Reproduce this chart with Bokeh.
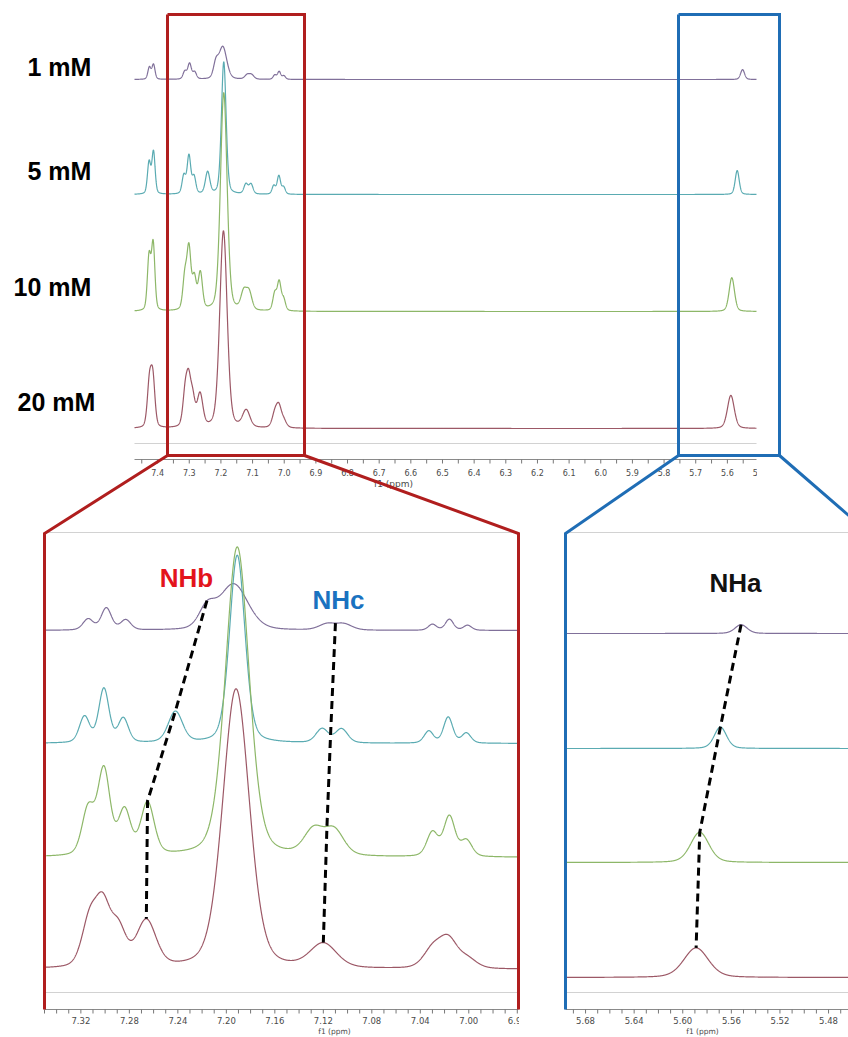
import numpy as np
from bokeh.plotting import figure
from bokeh.models import Range1d
from bokeh.embed import file_html
from bokeh.resources import INLINE
from bokeh.core.properties import value

# ------------------------------------------------------------------ data
CONCENTRATIONS = ["1 mM", "5 mM", "10 mM", "20 mM"]
TRACE_COLORS = ["#80709a", "#5aabb2", "#8db768", "#9c5866"]

# peak lists: position (ppm), intensity (a.u.), width (ppm)
C1_PPM = [7.426, 7.413, 7.314, 7.299, 7.283, 7.216, 7.194, 7.117, 7.103, 7.030, 7.016, 7.001, 5.552]
C1_INT = [17, 21, 11, 22, 10, 20, 46, 6, 6, 6, 11, 5, 14]
C1_FWHM = [0.007, 0.007, 0.010, 0.010, 0.010, 0.016, 0.028, 0.016, 0.016, 0.008, 0.008, 0.008, 0.012]

C5_PPM = [7.427, 7.413, 7.317, 7.301, 7.285, 7.242, 7.191, 7.121, 7.105, 7.033, 7.017, 7.002, 5.569]
C5_INT = [45, 60, 26, 54, 24, 31, 188, 14, 14, 12, 26, 10, 34]
C5_FWHM = [0.008, 0.008, 0.010, 0.010, 0.010, 0.014, 0.015, 0.012, 0.012, 0.009, 0.009, 0.009, 0.012]

C10_PPM = [7.427, 7.414, 7.314, 7.301, 7.284, 7.265, 7.191, 7.128, 7.111, 7.030, 7.016, 7.002, 5.586]
C10_INT = [76, 94, 46, 85, 44, 52, 310, 25, 25, 24, 40, 16, 48]
C10_FWHM = [0.009, 0.009, 0.012, 0.012, 0.012, 0.013, 0.023, 0.019, 0.019, 0.011, 0.011, 0.011, 0.018]

C20_PPM = [7.426, 7.415, 7.313, 7.302, 7.289, 7.266, 7.192, 7.120, 7.030, 7.017, 7.001, 5.589]
C20_INT = [60, 67, 44, 58, 36, 46, 280, 24, 18, 28, 9, 47]
C20_FWHM = [0.013, 0.013, 0.015, 0.015, 0.015, 0.019, 0.026, 0.026, 0.018, 0.018, 0.018, 0.024]

# tracked NH signals (ppm) for 1, 5, 10, 20 mM
NHA_PPM = [5.552, 5.569, 5.586, 5.589]
NHB_PPM = [7.216, 7.242, 7.265, 7.266]
NHC_PPM = [7.110, 7.114, 7.117, 7.120]
NH_LABELS = ["NHb", "NHc", "NHa"]

# axes
TOP_TICKS = ["7.4", "7.3", "7.2", "7.1", "7.0", "6.9", "6.8", "6.7", "6.6", "6.5", "6.4",
             "6.3", "6.2", "6.1", "6.0", "5.9", "5.8", "5.7", "5.6", "5.5"]
AROM_TICKS = ["7.32", "7.28", "7.24", "7.20", "7.16", "7.12", "7.08", "7.04", "7.00", "6.96"]
NHA_TICKS = ["5.68", "5.64", "5.60", "5.56", "5.52", "5.48"]
TOP_LIMITS = (7.473, 5.508)
AROM_LIMITS = (7.350, 6.959)
NHA_LIMITS = (5.6965, 5.4463)
AXIS_TITLE = "f1 (ppm)"

# ------------------------------------------------------------------ layout
W, H = 848, 1037
OX, OY = 0, 0

RED = "#b01e1e"
BLUE = "#1f6db5"
GREY = "#d2d2d2"

PANELS = [
    dict(name="top", L=134, R=756, lim=TOP_LIMITS, base=[79, 194, 311, 428], scale=0.704,
         blur=0.009, axis=459, tly=472, title=(393, 483), tfs="9px", lfs="8px", div=2,
         ticks=TOP_TICKS, grey=[443], n=5000),
    dict(name="arom", L=44, R=518, lim=AROM_LIMITS, base=[630, 743, 857, 969], scale=1.0,
         blur=0.0, axis=1009, tly=1020, title=(334, 1031), tfs="7.5px", lfs="8.5px", div=4,
         ticks=AROM_TICKS, grey=[532, 992], n=2500),
    dict(name="nha", L=565, R=869, lim=NHA_LIMITS, base=[633, 748, 862, 977], scale=0.63,
         blur=0.0, axis=1009, tly=1020, title=(702, 1031), tfs="7.5px", lfs="8.5px", div=4,
         ticks=NHA_TICKS, grey=[532, 992], n=2000),
]

SPECTRA = [(C1_PPM, C1_INT, C1_FWHM), (C5_PPM, C5_INT, C5_FWHM),
           (C10_PPM, C10_INT, C10_FWHM), (C20_PPM, C20_INT, C20_FWHM)]


def spectrum(x, pos, inten, fwhm, blur=0.0, eta=0.3):
    x = np.asarray(x, dtype=float)
    y = np.zeros_like(x)
    for c, a, f in zip(pos, inten, fwhm):
        fe = np.sqrt(f * f + blur * blur)
        d = (x - c) / (fe / 2.0)
        y += a * (eta / (1.0 + d * d) + (1.0 - eta) * np.exp(-np.log(2.0) * d * d))
    return y


extra_x, extra_y = {}, {}
for pn in PANELS:
    a, b = pn["lim"]
    k = (pn["R"] - pn["L"]) / (a - b)
    pn["k"] = k
    extra_x[pn["name"]] = Range1d(a - (OX - pn["L"]) / k, a - (OX + W - pn["L"]) / k)
    ref = pn["base"][-1]
    extra_y[pn["name"]] = Range1d((ref - (OY + H)) / pn["scale"], (ref - OY) / pn["scale"])
    pn["off"] = [(ref - bb) / pn["scale"] for bb in pn["base"]]

p = figure(width=W, height=H, output_backend="svg", toolbar_location=None,
           x_range=Range1d(OX, OX + W), y_range=Range1d(OY + H, OY),
           extra_x_ranges=extra_x, extra_y_ranges=extra_y,
           x_axis_type=None, y_axis_type=None, min_border=0,
           outline_line_color=None, background_fill_color="white",
           border_fill_color="white")

for pn in PANELS:
    nm = pn["name"]
    a, b = pn["lim"]
    for gy in pn["grey"]:
        p.line([a, b], [gy, gy], x_range_name=nm, line_color=GREY, line_width=1.2)
    grid = np.linspace(a, b, pn["n"])
    for i, (pos, inten, fw) in enumerate(SPECTRA):
        yy = pn["off"][i] + spectrum(grid, pos, inten, fw, pn["blur"])
        p.line(grid, yy, x_range_name=nm, y_range_name=nm,
               line_color=TRACE_COLORS[i], line_width=1.2)
    p.line([a, b], [pn["axis"], pn["axis"]], x_range_name=nm, line_color="#8a8a8a", line_width=1)
    vals = [float(t) for t in pn["ticks"]]
    step = abs(vals[0] - vals[1]) / pn["div"]
    i0 = int(np.ceil(b / step - 1e-6))
    i1 = int(np.floor(a / step + 1e-6))
    minor = [j * step for j in range(i0, i1 + 1)]
    p.segment(x0=minor, y0=[pn["axis"]] * len(minor), x1=minor, y1=[pn["axis"] + 4] * len(minor),
              x_range_name=nm, line_color="#777777", line_width=1)
    p.text(x=vals, y=[pn["tly"]] * len(vals), text=pn["ticks"], x_range_name=nm,
           text_align="center", text_baseline="middle", text_font=value("DejaVu Sans"),
           text_font_size=pn["lfs"], text_color="#4a4a4a")
    p.text(x=[pn["title"][0]], y=[pn["title"][1]], text=[AXIS_TITLE],
           text_align="center", text_baseline="middle", text_font=value("DejaVu Sans"),
           text_font_size=pn["tfs"], text_color="#4a4a4a")

# masks for tick labels clipped at panel edges
p.quad(left=[756.6], right=[800], top=[461], bottom=[492], fill_color="white", line_color=None)
p.quad(left=[518.5], right=[563.5], top=[1000], bottom=[1037], fill_color="white", line_color=None)

# dashed guides through the NH peak tops
arom = PANELS[1]
nha = PANELS[2]
for pn, ppm_list in [(arom, NHB_PPM), (arom, NHC_PPM), (nha, NHA_PPM)]:
    ys = [pn["off"][i] + float(spectrum([ppm_list[i]], *SPECTRA[i])[0]) for i in range(4)]
    p.line(ppm_list, ys, x_range_name=pn["name"], y_range_name=pn["name"],
           line_color="black", line_width=3, line_dash="8 5")

# zoom boxes and connectors (page pixels)
RED_BOX = (167, 304)
BLUE_BOX = (678, 779)
BOX_TOP, BOX_BOTTOM, PANEL_TOP, PANEL_BOTTOM = 14, 455, 533, 1009
for (xl, xr), col, pn in [(RED_BOX, RED, arom), (BLUE_BOX, BLUE, nha)]:
    p.line([xl, xr, xr, xl, xl], [BOX_TOP, BOX_TOP, BOX_BOTTOM, BOX_BOTTOM, BOX_TOP],
           line_color=col, line_width=3, line_join="miter")
    p.line([xl, pn["L"], pn["L"]], [BOX_BOTTOM, PANEL_TOP, PANEL_BOTTOM],
           line_color=col, line_width=3, line_join="miter")
    p.line([xr, pn["R"], pn["R"]], [BOX_BOTTOM, PANEL_TOP, PANEL_BOTTOM],
           line_color=col, line_width=3, line_join="miter")

# concentration labels
p.text(x=[27, 27, 13, 17], y=[66, 170, 286, 401], text=CONCENTRATIONS,
       text_align="left", text_baseline="middle", text_font=value("Liberation Sans"),
       text_font_style=value("bold"), text_font_size="25px", text_color="black")

# NH labels
p.text(x=[186, 338, 735], y=[577, 599, 582], text=NH_LABELS,
       text_align="center", text_baseline="middle", text_font=value("Liberation Sans"),
       text_font_style=value("bold"), text_font_size="26px",
       text_color=["#e3141c", "#1a72c0", "#111111"])

open("out.html", "w").write(file_html(p, INLINE))
